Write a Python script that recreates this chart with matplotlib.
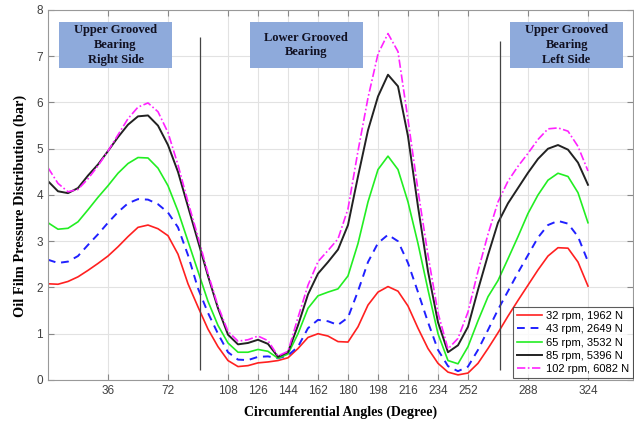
import matplotlib
matplotlib.use("Agg")
import matplotlib.pyplot as plt
from matplotlib.patches import Rectangle

# circumferential angle (deg), sampled every 6 degrees
angles = list(range(0, 325, 6))

p_32rpm = [2.08, 2.07, 2.13, 2.23, 2.37, 2.52, 2.68, 2.88, 3.10, 3.30, 3.35,
           3.27, 3.12, 2.72, 2.08, 1.58, 1.10, 0.72, 0.42, 0.29, 0.31, 0.37,
           0.39, 0.42, 0.48, 0.68, 0.92, 1.00, 0.95, 0.83, 0.82, 1.15, 1.62,
           1.90, 2.02, 1.92, 1.60, 1.12, 0.68, 0.36, 0.17, 0.11, 0.15, 0.36,
           0.68, 1.02, 1.38, 1.72, 2.05, 2.38, 2.68, 2.86, 2.85, 2.55, 2.03]
p_43rpm = [2.60, 2.53, 2.56, 2.68, 2.92, 3.15, 3.40, 3.63, 3.82, 3.91, 3.90,
           3.80, 3.62, 3.30, 2.70, 1.98, 1.45, 1.00, 0.60, 0.44, 0.43, 0.50,
           0.51, 0.47, 0.53, 0.72, 1.12, 1.30, 1.27, 1.19, 1.35, 1.92, 2.55,
           2.96, 3.14, 3.00, 2.53, 1.90, 1.25, 0.65, 0.30, 0.19, 0.29, 0.65,
           1.08, 1.52, 1.92, 2.32, 2.70, 3.08, 3.35, 3.44, 3.38, 3.10, 2.56]
p_65rpm = [3.40, 3.26, 3.28, 3.42, 3.68, 3.95, 4.20, 4.47, 4.68, 4.81, 4.80,
           4.58, 4.20, 3.65, 3.00, 2.35, 1.70, 1.18, 0.80, 0.60, 0.60, 0.66,
           0.62, 0.47, 0.56, 1.00, 1.55, 1.82, 1.90, 1.97, 2.25, 2.95, 3.85,
           4.55, 4.84, 4.55, 3.85, 2.95, 1.95, 1.00, 0.42, 0.35, 0.72, 1.28,
           1.80, 2.15, 2.62, 3.10, 3.60, 4.00, 4.32, 4.47, 4.40, 4.05, 3.40]
p_85rpm = [4.30, 4.08, 4.04, 4.15, 4.42, 4.66, 4.95, 5.25, 5.52, 5.70, 5.72,
           5.50, 5.08, 4.50, 3.75, 3.00, 2.25, 1.55, 0.98, 0.77, 0.80, 0.87,
           0.78, 0.50, 0.60, 1.18, 1.85, 2.30, 2.55, 2.82, 3.35, 4.40, 5.40,
           6.13, 6.60, 6.35, 5.27, 3.75, 2.35, 1.25, 0.60, 0.75, 1.15, 1.95,
           2.70, 3.40, 3.82, 4.15, 4.48, 4.78, 5.00, 5.08, 4.98, 4.70, 4.22]
p_102rpm = [4.59, 4.25, 4.07, 4.12, 4.35, 4.63, 4.95, 5.30, 5.65, 5.90, 5.99,
            5.80, 5.35, 4.65, 3.85, 3.10, 2.30, 1.60, 1.05, 0.84, 0.87, 0.95,
            0.85, 0.52, 0.62, 1.35, 2.05, 2.56, 2.80, 3.05, 3.70, 4.95, 6.10,
            7.05, 7.49, 7.10, 5.63, 4.10, 2.70, 1.45, 0.67, 0.90, 1.47, 2.35,
            3.15, 3.85, 4.30, 4.62, 4.90, 5.20, 5.43, 5.45, 5.38, 5.05, 4.52]

labels = ["32 rpm, 1962 N", "43 rpm, 2649 N", "65 rpm, 3532 N",
          "85 rpm, 5396 N", "102 rpm, 6082 N"]
xticks = [36, 72, 108, 126, 144, 162, 180, 198, 216, 234, 252, 288, 324]

plt.rcParams["font.family"] = ["Liberation Sans", "DejaVu Sans"]
fig = plt.figure(figsize=(6.34, 4.23), dpi=100)
ax = fig.add_axes([0.0757, 0.1017, 0.9227, 0.8747])

ax.plot(angles, p_32rpm, color="#ff2020", lw=1.2, label=labels[0])
ax.plot(angles, p_43rpm, color="#2020ff", lw=1.4, ls=(0, (4, 3)), label=labels[1])
ax.plot(angles, p_65rpm, color="#22ee22", lw=1.2, label=labels[2])
ax.plot(angles, p_85rpm, color="#222222", lw=1.4, label=labels[3])
ax.plot(angles, p_102rpm, color="#ff22ff", lw=1.2, ls=(0, (5, 1.5, 1, 1.5)), label=labels[4])

# groove boundaries
ax.vlines(91, 0.22, 7.42, color="#444444", lw=0.9)
ax.vlines(271, 0.22, 7.32, color="#444444", lw=0.9)

ax.set_xlim(0, 351)
ax.set_ylim(0, 8)
ax.set_xticks(xticks)
ax.set_yticks(range(0, 9))
ax.grid(True, color="#e2e2e2", lw=0.8)
ax.set_axisbelow(True)
ax.tick_params(direction="in", top=True, right=True, length=4,
               colors="#888888", labelcolor="#404040", labelsize=8.5)
for s in ax.spines.values():
    s.set_color("#999999")

serif = ["Liberation Serif", "DejaVu Serif"]
ax.set_xlabel("Circumferential Angles (Degree)", family=serif, fontweight="bold",
              fontsize=10, labelpad=6)
ax.set_ylabel("Oil Film Pressure Distribution (bar)", family=serif, fontweight="bold",
              fontsize=10.4)
ax.yaxis.set_label_coords(-0.036, 0.47)

boxes = [(0.019, "Upper Grooved\nBearing\nRight Side"),
         (0.345, "Lower Grooved\nBearing"),
         (0.790, "Upper Grooved\nBearing\nLeft Side")]
for x0, txt in boxes:
    ax.add_patch(Rectangle((x0, 0.843), 0.193, 0.125, transform=ax.transAxes,
                           facecolor="#8eaadb", edgecolor="none", zorder=3))
    ax.text(x0 + 0.0965, 0.905, txt, transform=ax.transAxes, ha="center", va="center",
            family=serif, fontweight="bold", fontsize=9, color="#111122",
            linespacing=1.3, zorder=4)

leg = ax.legend(loc="lower right", bbox_to_anchor=(1.0, 0.005), fontsize=8,
                frameon=True, fancybox=False, edgecolor="#333333",
                borderaxespad=0, handlelength=2.2, labelspacing=0.3,
                borderpad=0.35, handletextpad=0.4)
leg.get_frame().set_linewidth(0.8)

plt.savefig("out.png", dpi=100)
